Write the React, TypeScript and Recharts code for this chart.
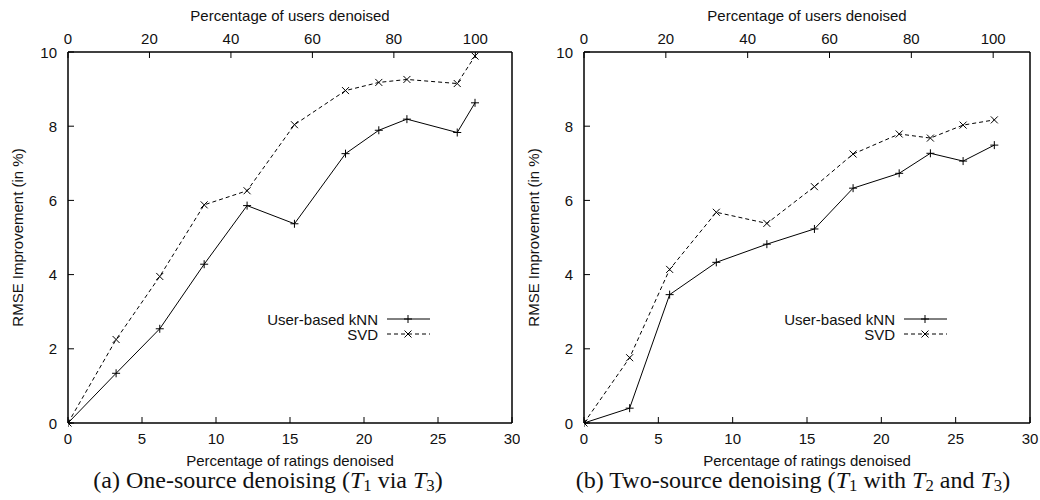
import React from 'react';
import { LineChart, Line, XAxis, YAxis, Legend, Label } from 'recharts';

// (a) one-source denoising
const ratingsA = [0, 3.25, 6.2, 9.2, 12.1, 15.3, 18.75, 21.0, 22.9, 26.3, 27.5];
const knnA = [0, 1.34, 2.54, 4.28, 5.86, 5.37, 7.26, 7.89, 8.19, 7.83, 8.63];
const svdA = [0, 2.25, 3.95, 5.88, 6.26, 8.04, 8.96, 9.18, 9.26, 9.15, 9.89];

// (b) two-source denoising
const ratingsB = [0, 3.07, 5.76, 8.9, 12.3, 15.5, 18.1, 21.2, 23.3, 25.5, 27.6];
const knnB = [0, 0.4, 3.46, 4.33, 4.82, 5.23, 6.33, 6.73, 7.27, 7.06, 7.49];
const svdB = [0, 1.76, 4.14, 5.68, 5.38, 6.37, 7.25, 7.79, 7.68, 8.03, 8.17];

const ratingTicks = [0, 5, 10, 15, 20, 25, 30];
const userTicks = [0, 20, 40, 60, 80, 100];
const rmseTicks = [0, 2, 4, 6, 8, 10];

const seriesNames = ['User-based kNN', 'SVD'];

const FONT = '"Liberation Sans", Arial, Helvetica, sans-serif';
const SERIF = '"Liberation Serif", "Times New Roman", serif';
const TICK_LEN = 6;
const frame = { stroke: '#000', strokeWidth: 1.5 };

function InTick(props: any) {
  const { x, y, payload, side } = props;
  const txt = { fontFamily: FONT, fontSize: 15, fill: '#111' };
  if (side === 'bottom') {
    return (
      <g>
        <line x1={x} y1={y} x2={x} y2={y - TICK_LEN} stroke="#000" />
        <text x={x} y={y + 15} textAnchor="middle" dominantBaseline="central" {...txt}>{payload.value}</text>
      </g>
    );
  }
  if (side === 'top') {
    return (
      <g>
        <line x1={x} y1={y} x2={x} y2={y + TICK_LEN} stroke="#000" />
        <text x={x} y={y - 14} textAnchor="middle" dominantBaseline="central" {...txt}>{payload.value}</text>
      </g>
    );
  }
  if (side === 'left') {
    return (
      <g>
        <line x1={x} y1={y} x2={x + TICK_LEN} y2={y} stroke="#000" />
        <text x={x - 11} y={y} textAnchor="end" dominantBaseline="central" {...txt}>{payload.value}</text>
      </g>
    );
  }
  return <line x1={x} y1={y} x2={x - TICK_LEN} y2={y} stroke="#000" />;
}

function PlusDot(props: any) {
  const { cx, cy } = props;
  if (cx == null || cy == null) return <g />;
  return <path d={`M${cx - 4},${cy}H${cx + 4}M${cx},${cy - 4}V${cy + 4}`} stroke="#000" strokeWidth={1} fill="none" />;
}

function CrossDot(props: any) {
  const { cx, cy } = props;
  if (cx == null || cy == null) return <g />;
  const r = 3.5;
  return (
    <path
      d={`M${cx - r},${cy - r}L${cx + r},${cy + r}M${cx + r},${cy - r}L${cx - r},${cy + r}`}
      stroke="#000"
      strokeWidth={1}
      fill="none"
    />
  );
}

function KeyBox() {
  return (
    <svg width={210} height={34} style={{ display: 'block' }}>
      <g fontFamily={FONT} fontSize={15} fill="#111">
        <text x={148} y={9} textAnchor="end" dominantBaseline="central">{seriesNames[0]}</text>
        <text x={148} y={24} textAnchor="end" dominantBaseline="central">{seriesNames[1]}</text>
      </g>
      <line x1={157} y1={9} x2={200} y2={9} stroke="#000" />
      <PlusDot cx={178} cy={9} />
      <line x1={157} y1={24} x2={200} y2={24} stroke="#000" strokeDasharray="4 3" />
      <CrossDot cx={178} cy={24} />
    </svg>
  );
}

function Panel(props: any) {
  const { ratings, knn, svd, leftW, rightW, titleX, legendLeft } = props;
  const data = ratings.map((x: number, i: number) => ({ x, knn: knn[i], svd: svd[i] }));
  return (
    <LineChart width={520} height={470} data={data} margin={{ top: 0, right: 0, bottom: 0, left: 0 }}>
      <XAxis
        xAxisId="bottom"
        dataKey="x"
        type="number"
        domain={[0, 30]}
        ticks={ratingTicks}
        interval={0}
        allowDataOverflow
        height={47}
        axisLine={frame}
        tickLine={false}
        tickSize={0}
        tickMargin={0}
        tick={(p: any) => <InTick {...p} side="bottom" />}
      >
        <Label
          content={(p: any) => {
            const vb = p.viewBox || { x: 0, y: 423, width: 444 };
            return (
              <text x={vb.x + vb.width / 2} y={vb.y + 37} textAnchor="middle" dominantBaseline="central" fontFamily={FONT} fontSize={15} fill="#111">
                Percentage of ratings denoised
              </text>
            );
          }}
        />
      </XAxis>
      <XAxis
        xAxisId="top"
        dataKey="x"
        orientation="top"
        type="number"
        domain={[0, 109]}
        ticks={userTicks}
        interval={0}
        allowDataOverflow
        height={52}
        axisLine={frame}
        tickLine={false}
        tickSize={0}
        tickMargin={0}
        tick={(p: any) => <InTick {...p} side="top" />}
      >
        <Label
          content={(p: any) => {
            const vb = p.viewBox || { x: 0, y: 0, width: 444 };
            return (
              <text x={vb.x + vb.width / 2} y={15} textAnchor="middle" dominantBaseline="central" fontFamily={FONT} fontSize={15} fill="#111">
                Percentage of users denoised
              </text>
            );
          }}
        />
      </XAxis>
      <YAxis
        yAxisId="left"
        type="number"
        domain={[0, 10]}
        ticks={rmseTicks}
        interval={0}
        width={leftW}
        axisLine={frame}
        tickLine={false}
        tickSize={0}
        tickMargin={0}
        tick={(p: any) => <InTick {...p} side="left" />}
      >
        <Label
          content={(p: any) => {
            const vb = p.viewBox || { x: 0, y: 52, height: 371 };
            const cx = vb.x + titleX;
            const cy = vb.y + vb.height / 2;
            return (
              <text x={cx} y={cy} transform={`rotate(-90, ${cx}, ${cy})`} textAnchor="middle" dominantBaseline="central" fontFamily={FONT} fontSize={15} fill="#111">
                RMSE Improvement (in %)
              </text>
            );
          }}
        />
      </YAxis>
      <YAxis
        yAxisId="right"
        orientation="right"
        type="number"
        domain={[0, 10]}
        ticks={rmseTicks}
        interval={0}
        width={rightW}
        axisLine={frame}
        tickLine={false}
        tickSize={0}
        tickMargin={0}
        tick={(p: any) => <InTick {...p} side="right" />}
      />
      <Legend
        layout="vertical"
        align="center"
        verticalAlign="middle"
        wrapperStyle={{ position: 'absolute', left: legendLeft, top: 310, width: 210, height: 34 }}
        content={() => <KeyBox />}
      />
      <Line
        xAxisId="bottom"
        yAxisId="left"
        dataKey="knn"
        name={seriesNames[0]}
        type="linear"
        stroke="#000"
        strokeWidth={1}
        dot={(p: any) => <PlusDot key={`k${p.index}`} {...p} />}
        activeDot={false}
        isAnimationActive={false}
      />
      <Line
        xAxisId="bottom"
        yAxisId="left"
        dataKey="svd"
        name={seriesNames[1]}
        type="linear"
        stroke="#000"
        strokeWidth={1}
        strokeDasharray="4 3"
        dot={(p: any) => <CrossDot key={`s${p.index}`} {...p} />}
        activeDot={false}
        isAnimationActive={false}
      />
    </LineChart>
  );
}

function Caption(props: any) {
  const { center, children } = props;
  return (
    <div
      style={{
        position: 'absolute',
        left: center - 260,
        top: 468,
        width: 520,
        textAlign: 'center',
        fontFamily: SERIF,
        fontSize: 24,
        lineHeight: '24px',
        color: '#111',
        whiteSpace: 'nowrap',
      }}
    >
      {children}
    </div>
  );
}

const Sub = ({ n }: { n: string }) => (
  <sub style={{ fontSize: '0.7em', verticalAlign: '-0.2em', lineHeight: 0 }}>{n}</sub>
);

export default function App() {
  return (
    <div style={{ position: 'absolute', left: 0, top: 0, width: 1040, height: 500, background: '#fff', overflow: 'hidden' }}>
      <div style={{ position: 'absolute', left: 0, top: 0 }}>
        <Panel ratings={ratingsA} knn={knnA} svd={svdA} leftW={68} rightW={8} titleX={17} legendLeft={230} />
      </div>
      <div style={{ position: 'absolute', left: 520, top: 0 }}>
        <Panel ratings={ratingsB} knn={knnB} svd={svdB} leftW={64} rightW={10} titleX={13} legendLeft={227} />
      </div>
      <Caption center={268}>
        (a) One-source denoising (<i>T</i><Sub n="1" /> via <i>T</i><Sub n="3" />)
      </Caption>
      <Caption center={793}>
        (b) Two-source denoising (<i>T</i><Sub n="1" /> with <i>T</i><Sub n="2" /> and <i>T</i><Sub n="3" />)
      </Caption>
    </div>
  );
}
